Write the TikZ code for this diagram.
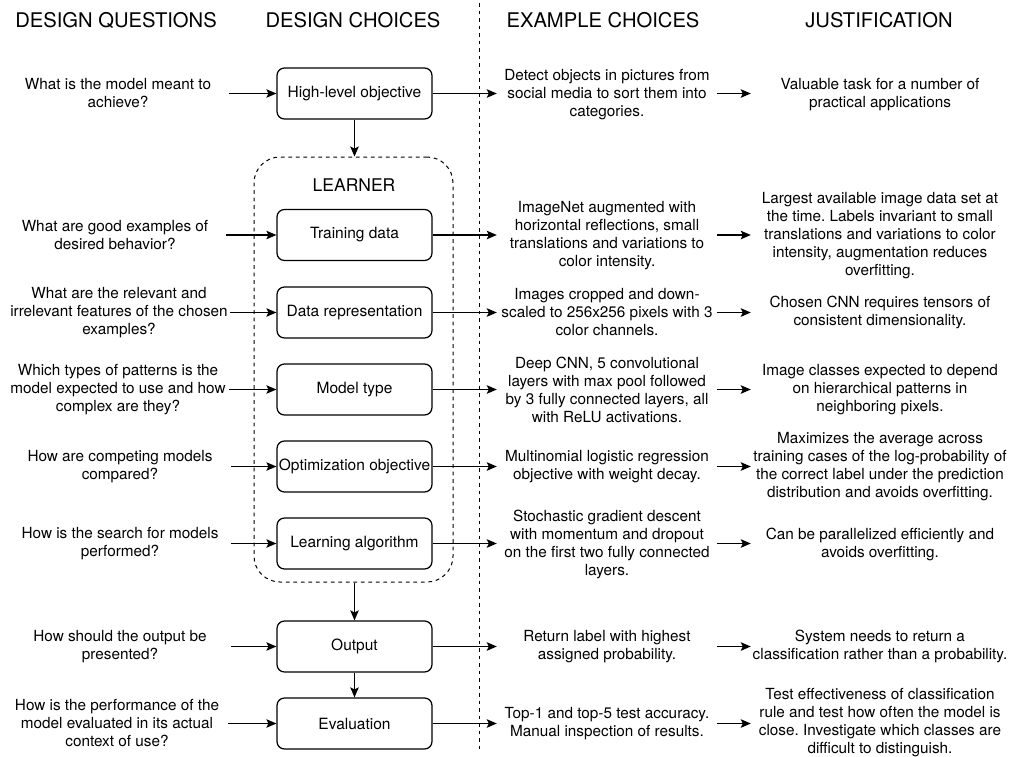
\documentclass[tikz,border=0pt]{standalone}
\usepackage{fontspec}
\setmainfont{TeX Gyre Heros}
\usetikzlibrary{arrows.meta}
\frenchspacing
\begin{document}
\begin{tikzpicture}[x=1pt,y=-1pt,
  txt/.style={font=\fontsize{15.3}{18}\selectfont, align=center, inner sep=0pt},
  qtxt/.style={txt, minimum width=222pt},
  extxt/.style={txt, minimum width=220pt},
  jtxt/.style={txt, minimum width=258pt},
  hdr/.style={font=\fontsize{20.2}{24}\selectfont, inner sep=0pt},
  choice/.style={draw, line width=1.25pt, rounded corners=7.5pt, minimum width=155pt, minimum height=51pt, inner sep=0pt, font=\fontsize{15.5}{18}\selectfont},
  arr/.style={-{Stealth[length=10pt,width=8.5pt,inset=2pt]}, line width=1.25pt},
  dsh/.style={line width=1pt, dash pattern=on 3.75pt off 3.75pt}
]
\useasboundingbox (0,0) rectangle (1013,756);

% headers
\node[hdr] (h1) at (116,20) {DESIGN QUESTIONS};
\node[hdr] (h2) at (353,20) {DESIGN CHOICES};
\node[hdr] (h3) at (603,20) {EXAMPLE CHOICES};
\node[hdr] (h4) at (879,20) {JUSTIFICATION};

% vertical divider
\coordinate (vtop) at (479,3);
\coordinate (vbot) at (479,751);
\draw[dsh] (vtop) -- (vbot);

% learner container
\node[draw, dsh, rounded corners=26pt, minimum width=199pt, minimum height=425pt, inner sep=0pt] (learner) at (353.5,369.5) {};
\node[font=\fontsize{17.5}{21}\selectfont, inner sep=0pt] (ltitle) at (354,185) {LEARNER};

% choice boxes
\node[choice] (b1) at (354.5,93.5) {High-level objective};
\node[choice] (b2) at (354.5,235) {Training data};
\node[choice] (b3) at (354.5,312.5) {Data representation};
\node[choice] (b4) at (354.5,389.5) {Model type};
\node[choice] (b5) at (354.5,466.5) {Optimization objective};
\node[choice] (b6) at (354.5,543.5) {Learning algorithm};
\node[choice] (b7) at (354.5,646.5) {Output};
\node[choice] (b8) at (354.5,723.5) {Evaluation};

% questions
\node[qtxt] (q1) at (118,93.5) {What is the model meant to\\achieve?};
\node[qtxt] (q2) at (115,235) {What are good examples of\\desired behavior?};
\node[qtxt] (q3) at (119,312.5) {What are the relevant and\\irrelevant features of the chosen\\examples?};
\node[qtxt] (q4) at (118,389.5) {Which types of patterns is the\\model expected to use and how\\complex are they?};
\node[qtxt] (q5) at (120,466.5) {How are competing models\\compared?};
\node[qtxt] (q6) at (120,543.5) {How is the search for models\\performed?};
\node[qtxt] (q7) at (120,646.5) {How should the output be\\presented?};
\node[qtxt] (q8) at (117,723.5) {How is the performance of the\\model evaluated in its actual\\context of use?};

% examples
\node[extxt] (e1) at (607,95) {Detect objects in pictures from\\social media to sort them into\\categories.};
\node[extxt] (e2) at (607,235.5) {ImageNet augmented with\\horizontal reflections, small\\translations and variations to\\color intensity.};
\node[extxt] (e3) at (607,312.5) {Images cropped and down-\\scaled to 256x256 pixels with 3\\color channels.};
\node[extxt] (e4) at (607,389.5) {Deep CNN, 5 convolutional\\layers with max pool followed\\by 3 fully connected layers, all\\with ReLU activations.};
\node[extxt] (e5) at (607,466.5) {Multinomial logistic regression\\objective with weight decay.};
\node[extxt] (e6) at (607,544) {Stochastic gradient descent\\with momentum and dropout\\on the first two fully connected\\layers.};
\node[extxt] (e7) at (607,646.5) {Return label with highest\\assigned probability.};
\node[extxt] (e8) at (607,723.5) {Top-1 and top-5 test accuracy.\\Manual inspection of results.};

% justifications
\node[jtxt] (j1) at (880,95) {Valuable task for a number of\\practical applications};
\node[jtxt] (j2) at (880,236) {Largest available image data set at\\the time. Labels invariant to small\\translations and variations to color\\intensity, augmentation reduces\\overfitting.};
\node[jtxt] (j3) at (880,312.5) {Chosen CNN requires tensors of\\consistent dimensionality.};
\node[jtxt] (j4) at (880,389.5) {Image classes expected to depend\\on hierarchical patterns in\\neighboring pixels.};
\node[jtxt] (j5) at (880,467) {Maximizes the average across\\training cases of the log-probability of\\the correct label under the prediction\\distribution and avoids overfitting.};
\node[jtxt] (j6) at (880,544) {Can be parallelized efficiently and\\avoids overfitting.};
\node[jtxt] (j7) at (880,646.5) {System needs to return a\\classification rather than a probability.};
\node[jtxt] (j8) at (880,723) {Test effectiveness of classification\\rule and test how often the model is\\close. Investigate which classes are\\difficult to distinguish.};

% horizontal arrows
\foreach \i in {1,...,8} {
  \draw[arr] (q\i.east |- b\i.west) -- (b\i.west);
  \draw[arr] (b\i.east) -- (e\i.west |- b\i.east);
  \draw[arr] (e\i.east |- b\i.east) -- (j\i.west |- b\i.east);
}

% vertical arrows
\draw[arr] (b1.south) -- (learner.north -| b1.south);
\draw[arr] (learner.south -| b7.north) -- (b7.north);
\draw[arr] (b7.south) -- (b8.north);
\end{tikzpicture}
\end{document}
